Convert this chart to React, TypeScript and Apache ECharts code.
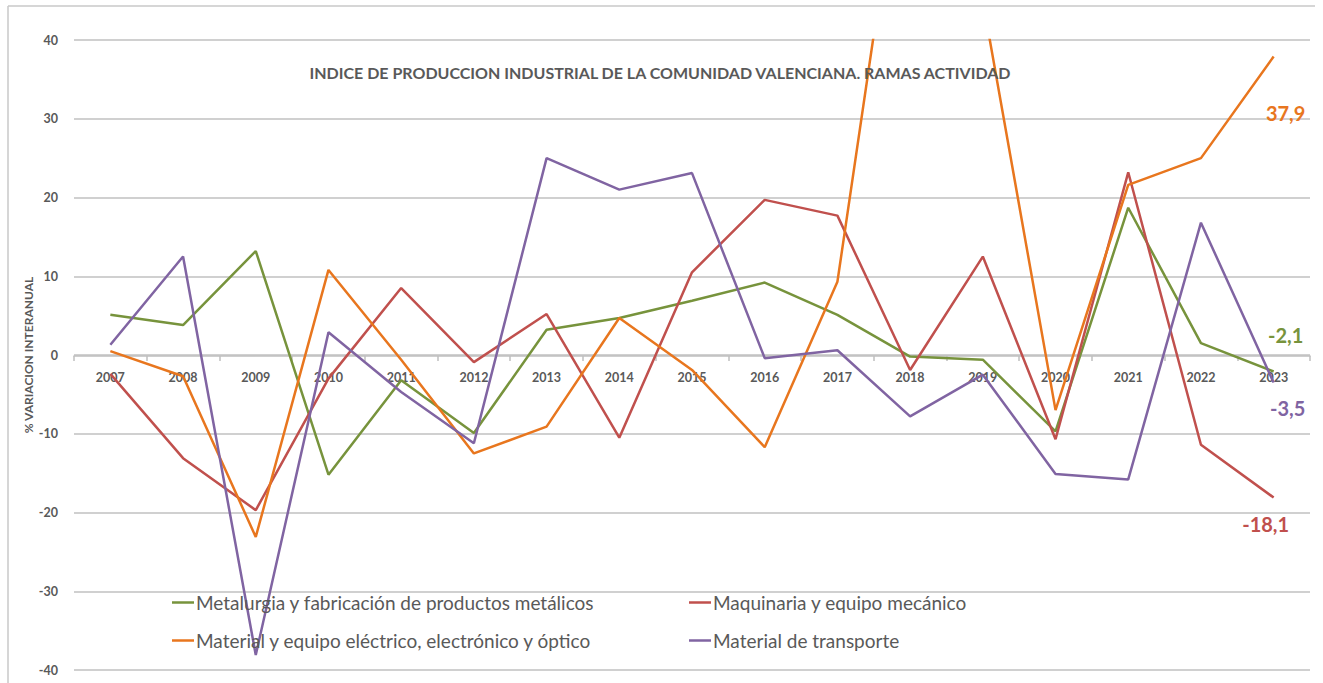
import React, { useEffect, useRef } from "react";
import * as echarts from "echarts";

const years = ["2007","2008","2009","2010","2011","2012","2013","2014","2015","2016","2017","2018","2019","2020","2021","2022","2023"];
const metalurgia = [5.1, 3.8, 13.2, -15.2, -3.2, -9.9, 3.2, 4.7, 6.9, 9.2, 5.1, -0.2, -0.6, -9.7, 18.7, 1.5, -2.1];
const maquinaria = [-2.4, -13.1, -19.7, -3.0, 8.5, -0.9, 5.2, -10.5, 10.5, 19.7, 17.7, -1.9, 12.5, -10.7, 23.2, -11.4, -18.1];
const electrico = [0.5, -2.7, -23.1, 10.8, -0.6, -12.5, -9.1, 4.7, -1.9, -11.7, 9.3, 72.0, 45.0, -7.0, 21.6, 25.0, 37.9];
const transporte = [1.3, 12.5, -38.1, 2.9, -4.7, -11.2, 25.0, 21.0, 23.1, -0.4, 0.6, -7.8, -2.5, -15.1, -15.8, 16.8, -3.5];

const seriesNames = [
  "Metalurgia y fabricación de productos metálicos",
  "Maquinaria y equipo mecánico",
  "Material y equipo eléctrico, electrónico y óptico",
  "Material de transporte",
];
const seriesColors = ["#77933C", "#C0504D", "#E8761E", "#8064A2"];
const seriesData = [metalurgia, maquinaria, electrico, transporte];
const endLabelOffsets: [number, number][] = [[12, -37], [-8, 26], [12, 56], [14, 25]];

const title = "INDICE DE PRODUCCION INDUSTRIAL DE LA COMUNIDAD VALENCIANA. RAMAS ACTIVIDAD";
const yAxisTitle = "% VARIACION INTERANUAL";

const FONT = "Lato, 'Open Sans', sans-serif";
const GRAY = "#595959";

const GRID_LEFT = 74;
const GRID_RIGHT = 13;
const GRID_TOP = 40;
const GRID_HEIGHT = 630;

export default function App() {
  const ref = useRef<HTMLDivElement>(null);
  useEffect(() => {
    if (!ref.current) return;
    const chart = echarts.init(ref.current, null, { renderer: "svg" });
    const legendPos = [
      { left: 172, top: 593 },
      { left: 689, top: 593 },
      { left: 172, top: 631 },
      { left: 689, top: 631 },
    ];
    chart.setOption({
      animation: false,
      backgroundColor: "#ffffff",
      textStyle: { fontFamily: FONT },
      title: {
        text: title,
        left: 655,
        textAlign: "center",
        top: 59,
        textStyle: { fontSize: 16, fontWeight: "bold", color: GRAY, fontFamily: FONT },
      },
      legend: seriesNames.map((n, i) => ({
        data: [n],
        left: legendPos[i].left,
        top: legendPos[i].top,
        padding: 0,
        icon: "rect",
        itemWidth: 22,
        itemHeight: 2.5,
        itemGap: 4,
        textStyle: { fontSize: 19, color: GRAY, fontFamily: FONT, padding: [0, 0, 0, -3] },
      })),
      grid: [
        { left: GRID_LEFT, right: GRID_RIGHT, top: GRID_TOP, height: GRID_HEIGHT, containLabel: false, outerBoundsMode: "none" },
        { left: GRID_LEFT, right: GRID_RIGHT, top: GRID_TOP + GRID_HEIGHT / 2, height: 1, containLabel: false, outerBoundsMode: "none" },
      ],
      xAxis: [
        {
          type: "category",
          gridIndex: 0,
          data: years,
          boundaryGap: true,
          axisLine: { show: false },
          axisTick: { show: false },
          axisLabel: { show: false },
          splitLine: { show: false },
        },
        {
          type: "category",
          gridIndex: 1,
          position: "top",
          data: years,
          boundaryGap: true,
          axisLine: { show: true, lineStyle: { color: "#bfbfbf", width: 1.5 } },
          axisTick: { show: true, inside: true, length: 5, lineStyle: { color: "#bfbfbf", width: 1.5 } },
          axisLabel: { show: true, inside: true, color: GRAY, fontWeight: "bold", fontSize: 12.5, margin: 22, fontFamily: FONT, verticalAlign: "middle" },
          splitLine: { show: false },
        },
      ],
      yAxis: [
        {
          type: "value",
          gridIndex: 0,
          min: -40,
          max: 40,
          interval: 10,
          name: yAxisTitle,
          nameLocation: "middle",
          nameRotate: 90,
          nameGap: 40,
          nameMoveOverlap: false,
          nameTextStyle: { color: GRAY, fontWeight: "bold", fontSize: 12, fontFamily: FONT },
          axisLine: { show: false },
          axisTick: { show: false },
          axisLabel: { color: GRAY, fontWeight: "bold", fontSize: 12.5, margin: 16, fontFamily: FONT },
          splitLine: { lineStyle: { color: "#c0c0c0", width: 1.5 } },
        },
        {
          type: "value",
          gridIndex: 1,
          min: 0,
          max: 1,
          show: false,
        },
      ],
      series: seriesNames.map((n, i) => {
        const d = seriesData[i];
        const last = d[d.length - 1];
        return {
          name: n,
          type: "line",
          xAxisIndex: 0,
          yAxisIndex: 0,
          data: d,
          showSymbol: false,
          clip: true,
          color: seriesColors[i],
          lineStyle: { width: 2.5, color: seriesColors[i] },
          markPoint: {
            symbol: "circle",
            symbolSize: 0,
            silent: true,
            data: [{ coord: [years[years.length - 1], last], value: last }],
            label: {
              show: true,
              position: "inside",
              offset: endLabelOffsets[i],
              formatter: String(last).replace(".", ","),
              color: seriesColors[i],
              fontWeight: "bold",
              fontSize: 20,
              fontFamily: FONT,
            },
          },
        };
      }),
      graphic: [
        { type: "line", shape: { x1: 8, y1: 6, x2: 1315, y2: 6 }, style: { stroke: "#c8c8c8", lineWidth: 1.5 }, silent: true },
        { type: "line", shape: { x1: 8, y1: 6, x2: 8, y2: 683 }, style: { stroke: "#c8c8c8", lineWidth: 1.5 }, silent: true },
      ],
    });
    return () => chart.dispose();
  }, []);
  return <div ref={ref} style={{ position: "absolute", left: 0, top: 0, width: 1323, height: 683 }} />;
}
